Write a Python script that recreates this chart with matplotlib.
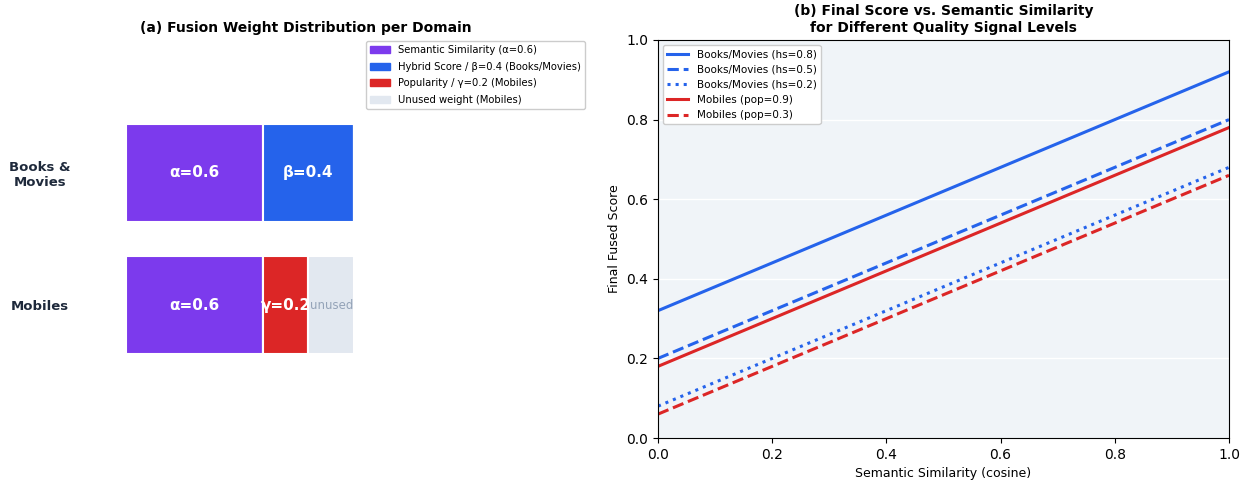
import numpy as np
import matplotlib
matplotlib.use('Agg')
from matplotlib import pyplot as plt
from matplotlib.patches import Patch

# Panel (a): fusion weights per domain
domains = ['Mobiles', 'Books &\nMovies']
alpha_w = [0.6, 0.6]
beta_w = [0.0, 0.4]
gamma_w = [0.2, 0.0]
unused_w = [0.2, 0.0]

# Panel (b): final score lines (value at sim=0 and sim=1)
sim = [0.0, 1.0]
series_labels = ['Books/Movies (hs=0.8)', 'Books/Movies (hs=0.5)',
                 'Books/Movies (hs=0.2)', 'Mobiles (pop=0.9)',
                 'Mobiles (pop=0.3)']
series_scores = [[0.32, 0.92], [0.20, 0.80], [0.08, 0.68],
                 [0.18, 0.78], [0.06, 0.66]]
series_colors = ['#2563eb', '#2563eb', '#2563eb', '#dc2626', '#dc2626']
series_styles = ['-', '--', ':', '-', '--']

PURPLE = '#7c3aed'
BLUE = '#2563eb'
RED = '#dc2626'
GREY = '#e2e8f0'

fig = plt.figure(figsize=(12.47, 4.8), dpi=100)
W, H = 1247, 480

# ---- left panel
ax1 = fig.add_axes([126 / W, 1 - 438 / H, 360 / W, 398 / H])
y = np.arange(len(domains))
h = 0.74
kw = dict(height=h, edgecolor='white', linewidth=1.5)
ax1.barh(y, alpha_w, color=PURPLE, **kw)
left = np.array(alpha_w)
ax1.barh(y, beta_w, left=left, color=BLUE, **kw)
left = left + np.array(beta_w)
ax1.barh(y, gamma_w, left=left, color=RED, **kw)
left = left + np.array(gamma_w)
ax1.barh(y, unused_w, left=left, color=GREY, **kw)

for i in range(len(domains)):
    x0 = 0.0
    for w, name in [(alpha_w[i], 'α'), (beta_w[i], 'β'), (gamma_w[i], 'γ')]:
        if w > 0:
            ax1.text(x0 + w / 2, y[i], f'{name}={w}', ha='center', va='center',
                     color='white', fontsize=11, fontweight='bold')
        x0 += w
    if unused_w[i] > 0:
        ax1.text(x0 + unused_w[i] / 2, y[i], 'unused', ha='center',
                 va='center', color='#94a3b8', fontsize=8.5)

ax1.set_xlim(0, 360 / 228)
ax1.set_ylim(-1, 2)
ax1.set_yticks(y)
ax1.set_yticklabels(domains, fontsize=9.5, fontweight='bold', color='#1e293b')
ax1.tick_params(axis='y', length=0, pad=62)
for lab in ax1.get_yticklabels():
    lab.set_horizontalalignment('center')
ax1.set_xticks([])
for s in ax1.spines.values():
    s.set_visible(False)
ax1.set_title('(a) Fusion Weight Distribution per Domain', fontsize=10,
              fontweight='bold', pad=6)
handles = [Patch(color=PURPLE, label='Semantic Similarity (α=0.6)'),
           Patch(color=BLUE, label='Hybrid Score / β=0.4 (Books/Movies)'),
           Patch(color=RED, label='Popularity / γ=0.2 (Mobiles)'),
           Patch(color=GREY, label='Unused weight (Mobiles)')]
ax1.legend(handles=handles, loc='upper left', fontsize=7.2,
           bbox_to_anchor=(240 / 360, 0.997), borderaxespad=0,
           handlelength=2.0, labelspacing=0.65, framealpha=1)

# ---- right panel
ax2 = fig.add_axes([658 / W, 1 - 438 / H, 571 / W, 398 / H])
ax2.set_facecolor('#f0f4f8')
for lab, sc, col, ls in zip(series_labels, series_scores, series_colors,
                            series_styles):
    ax2.plot(sim, sc, color=col, linestyle=ls, linewidth=2.2, label=lab)
ax2.set_xlim(0, 1)
ax2.set_ylim(0, 1)
ax2.grid(axis='y', color='white', linewidth=1)
ax2.set_axisbelow(True)
ax2.set_xlabel('Semantic Similarity (cosine)', fontsize=9)
ax2.set_ylabel('Final Fused Score', fontsize=9)
ax2.set_title('(b) Final Score vs. Semantic Similarity\n'
              'for Different Quality Signal Levels', fontsize=10,
              fontweight='bold')
ax2.legend(loc='upper left', fontsize=7.5, framealpha=1)

fig.savefig('out.png', dpi=100)
